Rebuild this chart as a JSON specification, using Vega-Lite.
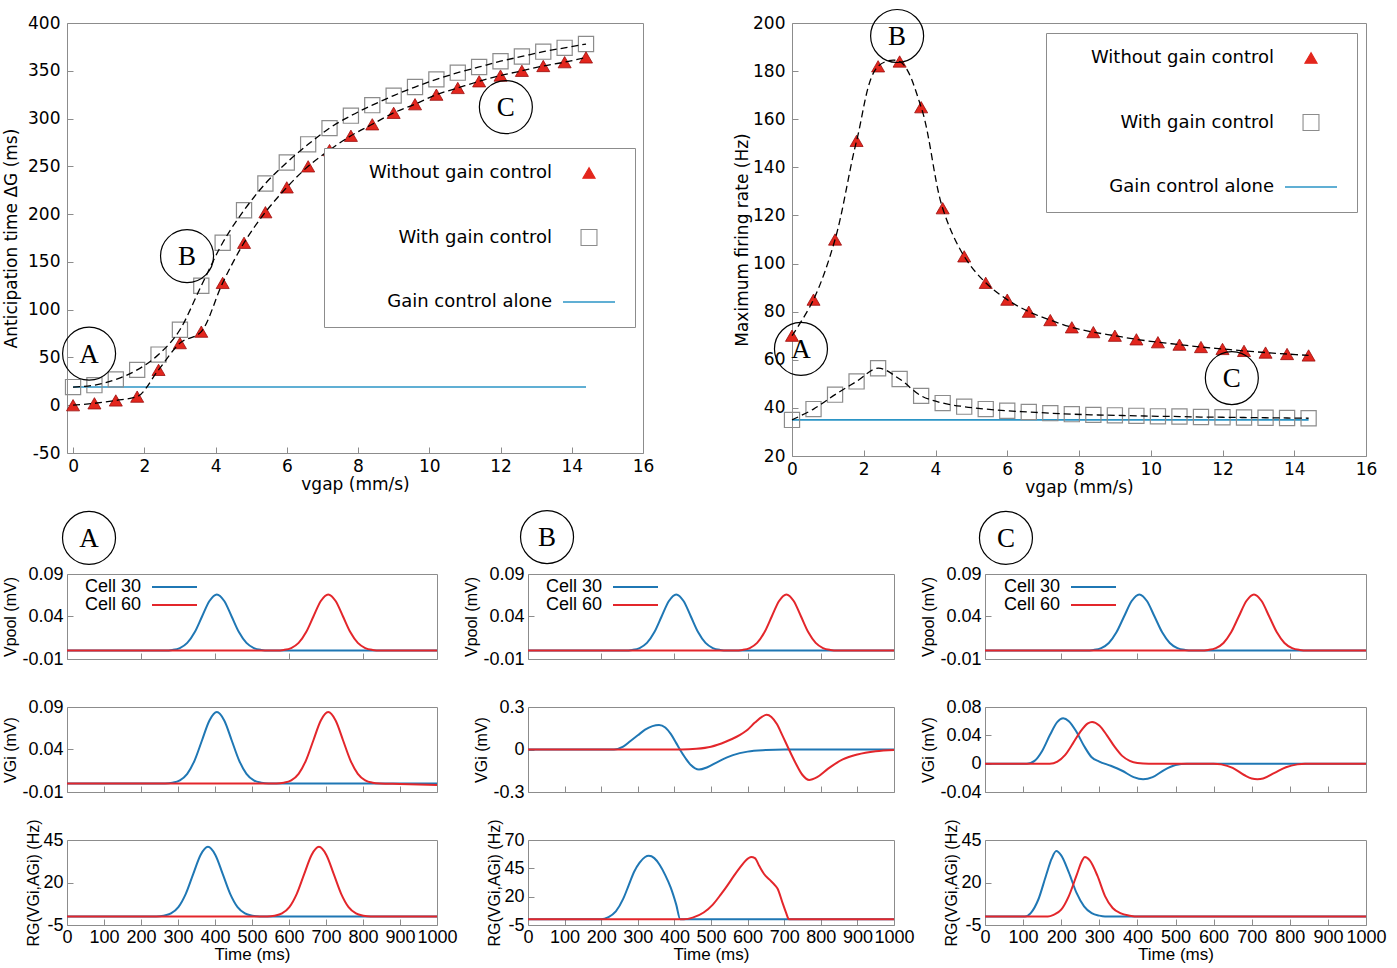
{
"$schema": "https://vega.github.io/schema/vega-lite/v6.json",
"background": "white",
"padding": {"left": 2, "top": 6, "right": 5, "bottom": 5},
"config": {
  "view": {"stroke": "#8c8c8c", "strokeWidth": 1},
  "axis": {"grid": false, "domain": false, "tickColor": "#8c8c8c", "tickSize": -6, "tickWidth": 1, "labelColor": "#000", "titleColor": "#000", "titleFontWeight": "normal", "labelFlush": false, "labelOverlap": false, "labelFont": "Liberation Sans", "labelFontSize": 18, "titleFont": "Liberation Sans", "titleFontSize": 16},
  "legend": {"labelColor": "#000"}
},
"datasets": {
  "tl": [
    {"vgap":0,"series":"Without gain control","value":0},{"vgap":0.6,"series":"Without gain control","value":2},{"vgap":1.2,"series":"Without gain control","value":5},{"vgap":1.8,"series":"Without gain control","value":9},{"vgap":2.4,"series":"Without gain control","value":37},{"vgap":3,"series":"Without gain control","value":65},{"vgap":3.6,"series":"Without gain control","value":77},{"vgap":4.2,"series":"Without gain control","value":128},{"vgap":4.8,"series":"Without gain control","value":170},{"vgap":5.4,"series":"Without gain control","value":202},{"vgap":6,"series":"Without gain control","value":228},{"vgap":6.6,"series":"Without gain control","value":250},{"vgap":7.2,"series":"Without gain control","value":267},{"vgap":7.8,"series":"Without gain control","value":282},{"vgap":8.4,"series":"Without gain control","value":294},{"vgap":9,"series":"Without gain control","value":306},{"vgap":9.6,"series":"Without gain control","value":315},{"vgap":10.2,"series":"Without gain control","value":325},{"vgap":10.8,"series":"Without gain control","value":332},{"vgap":11.4,"series":"Without gain control","value":339},{"vgap":12,"series":"Without gain control","value":345},{"vgap":12.6,"series":"Without gain control","value":350},{"vgap":13.2,"series":"Without gain control","value":355},{"vgap":13.8,"series":"Without gain control","value":359},{"vgap":14.4,"series":"Without gain control","value":364},
    {"vgap":0,"series":"With gain control","value":19},{"vgap":0.6,"series":"With gain control","value":21},{"vgap":1.2,"series":"With gain control","value":27},{"vgap":1.8,"series":"With gain control","value":37},{"vgap":2.4,"series":"With gain control","value":53},{"vgap":3,"series":"With gain control","value":79},{"vgap":3.6,"series":"With gain control","value":125},{"vgap":4.2,"series":"With gain control","value":170},{"vgap":4.8,"series":"With gain control","value":204},{"vgap":5.4,"series":"With gain control","value":232},{"vgap":6,"series":"With gain control","value":254},{"vgap":6.6,"series":"With gain control","value":273},{"vgap":7.2,"series":"With gain control","value":290},{"vgap":7.8,"series":"With gain control","value":303},{"vgap":8.4,"series":"With gain control","value":314},{"vgap":9,"series":"With gain control","value":324},{"vgap":9.6,"series":"With gain control","value":333},{"vgap":10.2,"series":"With gain control","value":341},{"vgap":10.8,"series":"With gain control","value":348},{"vgap":11.4,"series":"With gain control","value":354},{"vgap":12,"series":"With gain control","value":360},{"vgap":12.6,"series":"With gain control","value":365},{"vgap":13.2,"series":"With gain control","value":370},{"vgap":13.8,"series":"With gain control","value":374},{"vgap":14.4,"series":"With gain control","value":378},
    {"vgap":0,"series":"Gain control alone","value":19},{"vgap":14.4,"series":"Gain control alone","value":19}
  ],
  "tr": [
    {"vgap":0,"series":"Without gain control","value":70},{"vgap":0.6,"series":"Without gain control","value":85},{"vgap":1.2,"series":"Without gain control","value":110},{"vgap":1.8,"series":"Without gain control","value":151},{"vgap":2.4,"series":"Without gain control","value":182},{"vgap":3,"series":"Without gain control","value":184},{"vgap":3.6,"series":"Without gain control","value":165},{"vgap":4.2,"series":"Without gain control","value":123},{"vgap":4.8,"series":"Without gain control","value":103},{"vgap":5.4,"series":"Without gain control","value":92},{"vgap":6,"series":"Without gain control","value":85},{"vgap":6.6,"series":"Without gain control","value":80},{"vgap":7.2,"series":"Without gain control","value":76.5},{"vgap":7.8,"series":"Without gain control","value":73.5},{"vgap":8.4,"series":"Without gain control","value":71.5},{"vgap":9,"series":"Without gain control","value":70},{"vgap":9.6,"series":"Without gain control","value":68.5},{"vgap":10.2,"series":"Without gain control","value":67.3},{"vgap":10.8,"series":"Without gain control","value":66.3},{"vgap":11.4,"series":"Without gain control","value":65.3},{"vgap":12,"series":"Without gain control","value":64.5},{"vgap":12.6,"series":"Without gain control","value":63.7},{"vgap":13.2,"series":"Without gain control","value":63},{"vgap":13.8,"series":"Without gain control","value":62.4},{"vgap":14.4,"series":"Without gain control","value":61.8},
    {"vgap":0,"series":"With gain control","value":35},{"vgap":0.6,"series":"With gain control","value":39.5},{"vgap":1.2,"series":"With gain control","value":45.5},{"vgap":1.8,"series":"With gain control","value":51},{"vgap":2.4,"series":"With gain control","value":56.5},{"vgap":3,"series":"With gain control","value":52},{"vgap":3.6,"series":"With gain control","value":45},{"vgap":4.2,"series":"With gain control","value":42},{"vgap":4.8,"series":"With gain control","value":40.5},{"vgap":5.4,"series":"With gain control","value":39.5},{"vgap":6,"series":"With gain control","value":38.8},{"vgap":6.6,"series":"With gain control","value":38.3},{"vgap":7.2,"series":"With gain control","value":37.8},{"vgap":7.8,"series":"With gain control","value":37.4},{"vgap":8.4,"series":"With gain control","value":37.1},{"vgap":9,"series":"With gain control","value":36.9},{"vgap":9.6,"series":"With gain control","value":36.7},{"vgap":10.2,"series":"With gain control","value":36.5},{"vgap":10.8,"series":"With gain control","value":36.4},{"vgap":11.4,"series":"With gain control","value":36.2},{"vgap":12,"series":"With gain control","value":36.1},{"vgap":12.6,"series":"With gain control","value":36},{"vgap":13.2,"series":"With gain control","value":35.9},{"vgap":13.8,"series":"With gain control","value":35.8},{"vgap":14.4,"series":"With gain control","value":35.7},
    {"vgap":0,"series":"Gain control alone","value":35},{"vgap":14.4,"series":"Gain control alone","value":35}
  ],
  "vpool": [
    {"cell":"Cell 30","t":0,"v":0},{"cell":"Cell 30","t":265,"v":0},{"cell":"Cell 30","t":285,"v":0.0007},{"cell":"Cell 30","t":305,"v":0.0029},{"cell":"Cell 30","t":325,"v":0.0089},{"cell":"Cell 30","t":345,"v":0.0214},{"cell":"Cell 30","t":365,"v":0.04},{"cell":"Cell 30","t":385,"v":0.0582},{"cell":"Cell 30","t":405,"v":0.066},{"cell":"Cell 30","t":425,"v":0.0582},{"cell":"Cell 30","t":445,"v":0.04},{"cell":"Cell 30","t":465,"v":0.0214},{"cell":"Cell 30","t":485,"v":0.0089},{"cell":"Cell 30","t":505,"v":0.0029},{"cell":"Cell 30","t":525,"v":0.0007},{"cell":"Cell 30","t":545,"v":0},{"cell":"Cell 30","t":1000,"v":0},
    {"cell":"Cell 60","t":0,"v":0},{"cell":"Cell 60","t":566,"v":0},{"cell":"Cell 60","t":586,"v":0.0007},{"cell":"Cell 60","t":606,"v":0.0029},{"cell":"Cell 60","t":626,"v":0.0089},{"cell":"Cell 60","t":646,"v":0.0214},{"cell":"Cell 60","t":666,"v":0.04},{"cell":"Cell 60","t":686,"v":0.0582},{"cell":"Cell 60","t":706,"v":0.066},{"cell":"Cell 60","t":726,"v":0.0582},{"cell":"Cell 60","t":746,"v":0.04},{"cell":"Cell 60","t":766,"v":0.0214},{"cell":"Cell 60","t":786,"v":0.0089},{"cell":"Cell 60","t":806,"v":0.0029},{"cell":"Cell 60","t":826,"v":0.0007},{"cell":"Cell 60","t":846,"v":0},{"cell":"Cell 60","t":1000,"v":0}
  ],
  "avgi": [
    {"cell":"Cell 30","t":0,"v":0},{"cell":"Cell 30","t":265,"v":0},{"cell":"Cell 30","t":285,"v":0.0009},{"cell":"Cell 30","t":305,"v":0.0037},{"cell":"Cell 30","t":325,"v":0.0114},{"cell":"Cell 30","t":345,"v":0.0273},{"cell":"Cell 30","t":365,"v":0.0509},{"cell":"Cell 30","t":385,"v":0.0741},{"cell":"Cell 30","t":405,"v":0.084},{"cell":"Cell 30","t":425,"v":0.0741},{"cell":"Cell 30","t":445,"v":0.0509},{"cell":"Cell 30","t":465,"v":0.0273},{"cell":"Cell 30","t":485,"v":0.0114},{"cell":"Cell 30","t":505,"v":0.0037},{"cell":"Cell 30","t":525,"v":0.0009},{"cell":"Cell 30","t":545,"v":0},{"cell":"Cell 30","t":1000,"v":0},
    {"cell":"Cell 60","t":0,"v":0},{"cell":"Cell 60","t":566,"v":0},{"cell":"Cell 60","t":586,"v":0.0009},{"cell":"Cell 60","t":606,"v":0.0037},{"cell":"Cell 60","t":626,"v":0.0114},{"cell":"Cell 60","t":646,"v":0.0273},{"cell":"Cell 60","t":666,"v":0.0509},{"cell":"Cell 60","t":686,"v":0.0741},{"cell":"Cell 60","t":706,"v":0.084},{"cell":"Cell 60","t":726,"v":0.0741},{"cell":"Cell 60","t":746,"v":0.0509},{"cell":"Cell 60","t":766,"v":0.0273},{"cell":"Cell 60","t":786,"v":0.0114},{"cell":"Cell 60","t":806,"v":0.0037},{"cell":"Cell 60","t":826,"v":0.0009},{"cell":"Cell 60","t":846,"v":0},{"cell":"Cell 60","t":900,"v":-0.0005},{"cell":"Cell 60","t":1000,"v":-0.0017}
  ],
  "arg": [
    {"cell":"Cell 30","t":0,"v":0},{"cell":"Cell 30","t":241,"v":0},{"cell":"Cell 30","t":261,"v":0.46},{"cell":"Cell 30","t":281,"v":1.8},{"cell":"Cell 30","t":301,"v":5.5},{"cell":"Cell 30","t":321,"v":13.3},{"cell":"Cell 30","t":341,"v":24.9},{"cell":"Cell 30","t":361,"v":36.2},{"cell":"Cell 30","t":381,"v":41},{"cell":"Cell 30","t":401,"v":36.2},{"cell":"Cell 30","t":421,"v":24.9},{"cell":"Cell 30","t":441,"v":13.3},{"cell":"Cell 30","t":461,"v":5.5},{"cell":"Cell 30","t":481,"v":1.8},{"cell":"Cell 30","t":501,"v":0.46},{"cell":"Cell 30","t":521,"v":0},{"cell":"Cell 30","t":1000,"v":0},
    {"cell":"Cell 60","t":0,"v":0},{"cell":"Cell 60","t":541,"v":0},{"cell":"Cell 60","t":561,"v":0.46},{"cell":"Cell 60","t":581,"v":1.8},{"cell":"Cell 60","t":601,"v":5.5},{"cell":"Cell 60","t":621,"v":13.3},{"cell":"Cell 60","t":641,"v":24.9},{"cell":"Cell 60","t":661,"v":36.2},{"cell":"Cell 60","t":681,"v":41},{"cell":"Cell 60","t":701,"v":36.2},{"cell":"Cell 60","t":721,"v":24.9},{"cell":"Cell 60","t":741,"v":13.3},{"cell":"Cell 60","t":761,"v":5.5},{"cell":"Cell 60","t":781,"v":1.8},{"cell":"Cell 60","t":801,"v":0.46},{"cell":"Cell 60","t":821,"v":0},{"cell":"Cell 60","t":1000,"v":0}
  ],
  "bvgi": [
    {"cell":"Cell 30","t":0,"v":0},{"cell":"Cell 30","t":235,"v":0},{"cell":"Cell 30","t":260,"v":0.02},{"cell":"Cell 30","t":280,"v":0.06},{"cell":"Cell 30","t":300,"v":0.1},{"cell":"Cell 30","t":320,"v":0.14},{"cell":"Cell 30","t":340,"v":0.165},{"cell":"Cell 30","t":358,"v":0.173},{"cell":"Cell 30","t":375,"v":0.155},{"cell":"Cell 30","t":390,"v":0.11},{"cell":"Cell 30","t":405,"v":0.045},{"cell":"Cell 30","t":415,"v":0},{"cell":"Cell 30","t":430,"v":-0.06},{"cell":"Cell 30","t":445,"v":-0.11},{"cell":"Cell 30","t":467,"v":-0.142},{"cell":"Cell 30","t":490,"v":-0.125},{"cell":"Cell 30","t":520,"v":-0.085},{"cell":"Cell 30","t":560,"v":-0.04},{"cell":"Cell 30","t":600,"v":-0.015},{"cell":"Cell 30","t":650,"v":-0.004},{"cell":"Cell 30","t":700,"v":0},{"cell":"Cell 30","t":1000,"v":0},
    {"cell":"Cell 60","t":0,"v":0},{"cell":"Cell 60","t":420,"v":0},{"cell":"Cell 60","t":460,"v":0.005},{"cell":"Cell 60","t":500,"v":0.02},{"cell":"Cell 60","t":540,"v":0.055},{"cell":"Cell 60","t":570,"v":0.09},{"cell":"Cell 60","t":600,"v":0.14},{"cell":"Cell 60","t":620,"v":0.19},{"cell":"Cell 60","t":640,"v":0.232},{"cell":"Cell 60","t":652,"v":0.245},{"cell":"Cell 60","t":665,"v":0.23},{"cell":"Cell 60","t":680,"v":0.18},{"cell":"Cell 60","t":695,"v":0.1},{"cell":"Cell 60","t":713,"v":0},{"cell":"Cell 60","t":730,"v":-0.09},{"cell":"Cell 60","t":750,"v":-0.18},{"cell":"Cell 60","t":768,"v":-0.215},{"cell":"Cell 60","t":790,"v":-0.195},{"cell":"Cell 60","t":820,"v":-0.135},{"cell":"Cell 60","t":860,"v":-0.07},{"cell":"Cell 60","t":900,"v":-0.035},{"cell":"Cell 60","t":950,"v":-0.012},{"cell":"Cell 60","t":1000,"v":-0.003}
  ],
  "brg": [
    {"cell":"Cell 30","t":0,"v":0},{"cell":"Cell 30","t":200,"v":0},{"cell":"Cell 30","t":220,"v":2},{"cell":"Cell 30","t":240,"v":7},{"cell":"Cell 30","t":260,"v":18},{"cell":"Cell 30","t":275,"v":30},{"cell":"Cell 30","t":290,"v":42},{"cell":"Cell 30","t":305,"v":50},{"cell":"Cell 30","t":320,"v":55},{"cell":"Cell 30","t":330,"v":56},{"cell":"Cell 30","t":345,"v":54},{"cell":"Cell 30","t":360,"v":48},{"cell":"Cell 30","t":375,"v":39},{"cell":"Cell 30","t":390,"v":28},{"cell":"Cell 30","t":405,"v":13},{"cell":"Cell 30","t":416,"v":0},{"cell":"Cell 30","t":1000,"v":0},
    {"cell":"Cell 60","t":0,"v":0},{"cell":"Cell 60","t":426,"v":0},{"cell":"Cell 60","t":450,"v":1.5},{"cell":"Cell 60","t":480,"v":6},{"cell":"Cell 60","t":505,"v":13},{"cell":"Cell 60","t":527,"v":22},{"cell":"Cell 60","t":545,"v":30},{"cell":"Cell 60","t":563,"v":38.5},{"cell":"Cell 60","t":580,"v":46},{"cell":"Cell 60","t":595,"v":52},{"cell":"Cell 60","t":610,"v":55},{"cell":"Cell 60","t":620,"v":54},{"cell":"Cell 60","t":632,"v":47},{"cell":"Cell 60","t":645,"v":40},{"cell":"Cell 60","t":660,"v":35},{"cell":"Cell 60","t":675,"v":30},{"cell":"Cell 60","t":682,"v":27},{"cell":"Cell 60","t":695,"v":15},{"cell":"Cell 60","t":705,"v":6},{"cell":"Cell 60","t":713,"v":0},{"cell":"Cell 60","t":1000,"v":0}
  ],
  "cvgi": [
    {"cell":"Cell 30","t":0,"v":0},{"cell":"Cell 30","t":110,"v":0},{"cell":"Cell 30","t":130,"v":0.004},{"cell":"Cell 30","t":150,"v":0.018},{"cell":"Cell 30","t":170,"v":0.04},{"cell":"Cell 30","t":190,"v":0.059},{"cell":"Cell 30","t":205,"v":0.064},{"cell":"Cell 30","t":220,"v":0.06},{"cell":"Cell 30","t":240,"v":0.045},{"cell":"Cell 30","t":260,"v":0.025},{"cell":"Cell 30","t":280,"v":0.009},{"cell":"Cell 30","t":300,"v":0.003},{"cell":"Cell 30","t":330,"v":-0.003},{"cell":"Cell 30","t":360,"v":-0.01},{"cell":"Cell 30","t":390,"v":-0.019},{"cell":"Cell 30","t":415,"v":-0.022},{"cell":"Cell 30","t":440,"v":-0.019},{"cell":"Cell 30","t":470,"v":-0.009},{"cell":"Cell 30","t":500,"v":-0.002},{"cell":"Cell 30","t":530,"v":0},{"cell":"Cell 30","t":1000,"v":0},
    {"cell":"Cell 60","t":0,"v":0},{"cell":"Cell 60","t":170,"v":0},{"cell":"Cell 60","t":190,"v":0.003},{"cell":"Cell 60","t":210,"v":0.012},{"cell":"Cell 60","t":230,"v":0.028},{"cell":"Cell 60","t":250,"v":0.045},{"cell":"Cell 60","t":270,"v":0.057},{"cell":"Cell 60","t":281,"v":0.059},{"cell":"Cell 60","t":300,"v":0.054},{"cell":"Cell 60","t":320,"v":0.04},{"cell":"Cell 60","t":340,"v":0.024},{"cell":"Cell 60","t":360,"v":0.011},{"cell":"Cell 60","t":380,"v":0.004},{"cell":"Cell 60","t":400,"v":0.001},{"cell":"Cell 60","t":430,"v":0},{"cell":"Cell 60","t":600,"v":0},{"cell":"Cell 60","t":620,"v":-0.001},{"cell":"Cell 60","t":650,"v":-0.006},{"cell":"Cell 60","t":680,"v":-0.016},{"cell":"Cell 60","t":700,"v":-0.021},{"cell":"Cell 60","t":715,"v":-0.022},{"cell":"Cell 60","t":730,"v":-0.021},{"cell":"Cell 60","t":760,"v":-0.013},{"cell":"Cell 60","t":790,"v":-0.005},{"cell":"Cell 60","t":820,"v":-0.001},{"cell":"Cell 60","t":840,"v":0},{"cell":"Cell 60","t":1000,"v":0}
  ],
  "crg": [
    {"cell":"Cell 30","t":0,"v":0},{"cell":"Cell 30","t":105,"v":0},{"cell":"Cell 30","t":120,"v":2},{"cell":"Cell 30","t":140,"v":10},{"cell":"Cell 30","t":160,"v":24},{"cell":"Cell 30","t":175,"v":34},{"cell":"Cell 30","t":187,"v":38.5},{"cell":"Cell 30","t":200,"v":36},{"cell":"Cell 30","t":220,"v":26},{"cell":"Cell 30","t":240,"v":14},{"cell":"Cell 30","t":260,"v":6},{"cell":"Cell 30","t":280,"v":2},{"cell":"Cell 30","t":300,"v":0.5},{"cell":"Cell 30","t":315,"v":0},{"cell":"Cell 30","t":1000,"v":0},
    {"cell":"Cell 60","t":0,"v":0},{"cell":"Cell 60","t":165,"v":0},{"cell":"Cell 60","t":180,"v":1},{"cell":"Cell 60","t":200,"v":4},{"cell":"Cell 60","t":220,"v":12},{"cell":"Cell 60","t":240,"v":24},{"cell":"Cell 60","t":255,"v":33},{"cell":"Cell 60","t":262,"v":35},{"cell":"Cell 60","t":275,"v":33},{"cell":"Cell 60","t":295,"v":24},{"cell":"Cell 60","t":315,"v":12},{"cell":"Cell 60","t":335,"v":5},{"cell":"Cell 60","t":355,"v":2},{"cell":"Cell 60","t":380,"v":0.5},{"cell":"Cell 60","t":405,"v":0},{"cell":"Cell 60","t":1000,"v":0}
  ]
},
"columns": 1,
"align": "none",
"spacing": 11,
"resolve": {"scale": {"color": "independent"}, "legend": {"color": "independent"}},
"concat": [
  {"spacing": 149, "bounds": "flush",
   "resolve": {"scale": {"color": "independent"}, "legend": {"color": "independent"}},
   "hconcat": [
    {"width": 576, "height": 430, "data": {"name": "tl"},
     "layer": [
      {"transform": [{"filter": "datum.series === 'Gain control alone'"}],
       "mark": {"type": "line", "strokeWidth": 1.6},
       "encoding": {
         "x": {"field": "vgap", "type": "quantitative", "scale": {"domain": [-0.17, 16], "nice": false, "zero": false},
               "axis": {"values": [0,2,4,6,8,10,12,14,16], "title": "vgap (mm/s)", "labelFont": "DejaVu Sans", "labelFontSize": 17, "titleFont": "DejaVu Sans", "titleFontSize": 17, "labelPadding": 11, "titlePadding": 2}},
         "y": {"field": "value", "type": "quantitative", "scale": {"domain": [-50, 400], "nice": false, "zero": false},
               "axis": {"values": [-50,0,50,100,150,200,250,300,350,400], "title": "Anticipation time ΔG (ms)", "labelExpr": "replace(datum.label, '−', '-')", "labelFont": "DejaVu Sans", "labelFontSize": 17, "titleFont": "DejaVu Sans", "titleFontSize": 17, "labelPadding": 13, "titlePadding": 7}},
         "color": {"field": "series", "type": "nominal",
                   "scale": {"domain": ["Without gain control", "With gain control", "Gain control alone"], "range": ["#e3261d", "#8c8c8c", "#2b95c6"]},
                   "legend": {"title": " ", "titleOrient": "left", "titleFontSize": 18, "titlePadding": 28, "orient": "none", "legendX": 257, "legendY": 125, "direction": "vertical", "padding": 16, "strokeColor": "#8c8c8c", "fillColor": "white", "labelAlign": "right", "labelOffset": -46, "symbolOffset": 212, "symbolSize": 150, "rowPadding": 44.5, "labelFont": "DejaVu Sans", "labelFontSize": 18, "labelLimit": 400, "labelColor": "#000",
                     "encode": {"symbols": {"update": {
                       "shape": {"signal": "datum.value === 'Without gain control' ? 'triangle-up' : datum.value === 'With gain control' ? 'M-1.3,-1.3H1.3V1.3H-1.3Z' : 'M-4.25,0H4.25'"},
                       "fill": {"signal": "datum.value === 'Without gain control' ? '#e3261d' : 'transparent'"},
                       "fillOpacity": {"signal": "datum.value === 'Without gain control' ? 1 : 0"},
                       "stroke": {"signal": "datum.value === 'Without gain control' ? '#9a0f0f' : datum.value === 'With gain control' ? '#8c8c8c' : '#2b95c6'"},
                       "strokeWidth": {"signal": "datum.value === 'Gain control alone' ? 1.6 : 1.1"},
                       "opacity": {"value": 1}}}}}}
       }},
      {"transform": [{"filter": "datum.series === 'With gain control'"}],
       "mark": {"type": "point", "shape": "square", "size": 230, "filled": false, "strokeWidth": 1.2, "opacity": 1},
       "encoding": {"x": {"field": "vgap", "type": "quantitative"}, "y": {"field": "value", "type": "quantitative"}, "color": {"field": "series", "type": "nominal"}}},
      {"transform": [{"filter": "datum.series === 'Without gain control'"}],
       "mark": {"type": "point", "shape": "triangle-up", "size": 170, "filled": true, "opacity": 1, "stroke": "#9a0f0f", "strokeWidth": 0.8},
       "encoding": {"x": {"field": "vgap", "type": "quantitative"}, "y": {"field": "value", "type": "quantitative"}, "color": {"field": "series", "type": "nominal"}}},
      {"transform": [{"filter": "datum.series !== 'Gain control alone'"}],
       "mark": {"type": "line", "interpolate": "monotone", "color": "#000", "strokeDash": [7, 4], "strokeWidth": 1.3},
       "encoding": {"x": {"field": "vgap", "type": "quantitative"}, "y": {"field": "value", "type": "quantitative"}, "detail": {"field": "series"}}},
      {"data": {"values": [{"vgap": 0.45, "value": 54, "label": "A"}, {"vgap": 3.2, "value": 156, "label": "B"}, {"vgap": 12.15, "value": 312, "label": "C"}]},
       "mark": {"type": "point", "shape": "circle", "size": 2809, "filled": false, "stroke": "#000", "strokeWidth": 1.2, "opacity": 1},
       "encoding": {"x": {"field": "vgap", "type": "quantitative"}, "y": {"field": "value", "type": "quantitative"}}},
      {"data": {"values": [{"vgap": 0.45, "value": 54, "label": "A"}, {"vgap": 3.2, "value": 156, "label": "B"}, {"vgap": 12.15, "value": 312, "label": "C"}]},
       "mark": {"type": "text", "font": "Liberation Serif", "fontSize": 27, "color": "#000", "baseline": "middle", "dy": 1},
       "encoding": {"x": {"field": "vgap", "type": "quantitative"}, "y": {"field": "value", "type": "quantitative"}, "text": {"field": "label"}}}
     ]},
    {"width": 574, "height": 433, "data": {"name": "tr"},
     "layer": [
      {"transform": [{"filter": "datum.series === 'Gain control alone'"}],
       "mark": {"type": "line", "strokeWidth": 1.6},
       "encoding": {
         "x": {"field": "vgap", "type": "quantitative", "scale": {"domain": [0, 16], "nice": false, "zero": false},
               "axis": {"values": [0,2,4,6,8,10,12,14,16], "title": "vgap (mm/s)", "labelFont": "DejaVu Sans", "labelFontSize": 17, "titleFont": "DejaVu Sans", "titleFontSize": 17, "labelPadding": 11, "titlePadding": 2}},
         "y": {"field": "value", "type": "quantitative", "scale": {"domain": [20, 200], "nice": false, "zero": false},
               "axis": {"values": [20,40,60,80,100,120,140,160,180,200], "title": "Maximum firing rate (Hz)", "labelFont": "DejaVu Sans", "labelFontSize": 17, "titleFont": "DejaVu Sans", "titleFontSize": 17, "labelPadding": 13, "titlePadding": 1}},
         "color": {"field": "series", "type": "nominal",
                   "scale": {"domain": ["Without gain control", "With gain control", "Gain control alone"], "range": ["#e3261d", "#8c8c8c", "#2b95c6"]},
                   "legend": {"title": " ", "titleOrient": "left", "titleFontSize": 18, "titlePadding": 28, "orient": "none", "legendX": 254, "legendY": 10, "direction": "vertical", "padding": 16, "strokeColor": "#8c8c8c", "fillColor": "white", "labelAlign": "right", "labelOffset": -46, "symbolOffset": 212, "symbolSize": 150, "rowPadding": 44.5, "labelFont": "DejaVu Sans", "labelFontSize": 18, "labelLimit": 400, "labelColor": "#000",
                     "encode": {"symbols": {"update": {
                       "shape": {"signal": "datum.value === 'Without gain control' ? 'triangle-up' : datum.value === 'With gain control' ? 'M-1.3,-1.3H1.3V1.3H-1.3Z' : 'M-4.25,0H4.25'"},
                       "fill": {"signal": "datum.value === 'Without gain control' ? '#e3261d' : 'transparent'"},
                       "fillOpacity": {"signal": "datum.value === 'Without gain control' ? 1 : 0"},
                       "stroke": {"signal": "datum.value === 'Without gain control' ? '#9a0f0f' : datum.value === 'With gain control' ? '#8c8c8c' : '#2b95c6'"},
                       "strokeWidth": {"signal": "datum.value === 'Gain control alone' ? 1.6 : 1.1"},
                       "opacity": {"value": 1}}}}}}
       }},
      {"transform": [{"filter": "datum.series === 'With gain control'"}],
       "mark": {"type": "point", "shape": "square", "size": 230, "filled": false, "strokeWidth": 1.2, "opacity": 1},
       "encoding": {"x": {"field": "vgap", "type": "quantitative"}, "y": {"field": "value", "type": "quantitative"}, "color": {"field": "series", "type": "nominal"}}},
      {"transform": [{"filter": "datum.series === 'Without gain control'"}],
       "mark": {"type": "point", "shape": "triangle-up", "size": 170, "filled": true, "opacity": 1, "stroke": "#9a0f0f", "strokeWidth": 0.8},
       "encoding": {"x": {"field": "vgap", "type": "quantitative"}, "y": {"field": "value", "type": "quantitative"}, "color": {"field": "series", "type": "nominal"}}},
      {"transform": [{"filter": "datum.series !== 'Gain control alone'"}],
       "mark": {"type": "line", "interpolate": "catmull-rom", "color": "#000", "strokeDash": [7, 4], "strokeWidth": 1.3},
       "encoding": {"x": {"field": "vgap", "type": "quantitative"}, "y": {"field": "value", "type": "quantitative"}, "detail": {"field": "series"}}},
      {"data": {"values": [{"vgap": 0.25, "value": 64.5, "label": "A"}, {"vgap": 2.93, "value": 194.6, "label": "B"}, {"vgap": 12.26, "value": 52.4, "label": "C"}]},
       "mark": {"type": "point", "shape": "circle", "size": 2809, "filled": false, "stroke": "#000", "strokeWidth": 1.2, "opacity": 1},
       "encoding": {"x": {"field": "vgap", "type": "quantitative"}, "y": {"field": "value", "type": "quantitative"}}},
      {"data": {"values": [{"vgap": 0.25, "value": 64.5, "label": "A"}, {"vgap": 2.93, "value": 194.6, "label": "B"}, {"vgap": 12.26, "value": 52.4, "label": "C"}]},
       "mark": {"type": "text", "font": "Liberation Serif", "fontSize": 27, "color": "#000", "baseline": "middle", "dy": 1},
       "encoding": {"x": {"field": "vgap", "type": "quantitative"}, "y": {"field": "value", "type": "quantitative"}, "text": {"field": "label"}}}
     ]}
   ]},
  {"spacing": 5,
   "resolve": {"scale": {"color": "independent"}, "legend": {"color": "independent"}},
   "hconcat": [
    {"spacing": 48, "bounds": "flush",
     "resolve": {"scale": {"color": "independent"}, "legend": {"color": "independent"}},
     "vconcat": [
      {"width": 370, "height": 85,
       "layer": [
        {"data": {"name": "vpool"}, "mark": {"type": "line", "interpolate": "monotone", "strokeWidth": 2},
         "encoding": {
           "x": {"field": "t", "type": "quantitative", "scale": {"domain": [0, 1000], "nice": false, "zero": false}, "axis": {"values": [0,100,200,300,400,500,600,700,800,900,1000], "labels": false, "title": null}},
           "y": {"field": "v", "type": "quantitative", "scale": {"domain": [-0.01, 0.09], "nice": false, "zero": false}, "axis": {"values": [-0.01, 0.04, 0.09], "format": ".2f", "labelExpr": "replace(datum.label, '−', '-')", "title": "Vpool (mV)", "labelPadding": 10, "titlePadding": 3}},
           "color": {"field": "cell", "type": "nominal", "scale": {"domain": ["Cell 30", "Cell 60"], "range": ["#1f77b4", "#e3262b"]},
                     "legend": {"title": null, "orient": "none", "legendX": 18, "legendY": 4, "direction": "vertical", "padding": 0, "labelAlign": "right", "labelOffset": -42.5, "symbolOffset": 80.5, "symbolSize": 100, "symbolType": "M-4.5,0H4.5", "symbolStrokeWidth": 2, "rowPadding": 0, "labelFont": "Liberation Sans", "labelFontSize": 18, "labelLimit": 300, "labelColor": "#000"}}
         }},
        {"data": {"values": [{"t": 59.5, "v": 0.1324, "label": "A"}]}, "mark": {"type": "point", "shape": "circle", "size": 2809, "filled": false, "stroke": "#000", "strokeWidth": 1.2, "opacity": 1},
         "encoding": {"x": {"field": "t", "type": "quantitative"}, "y": {"field": "v", "type": "quantitative"}}},
        {"data": {"values": [{"t": 59.5, "v": 0.1324, "label": "A"}]}, "mark": {"type": "text", "font": "Liberation Serif", "fontSize": 27, "color": "#000", "baseline": "middle", "dy": 1},
         "encoding": {"x": {"field": "t", "type": "quantitative"}, "y": {"field": "v", "type": "quantitative"}, "text": {"field": "label"}}}
       ]},
      {"width": 370, "height": 85, "data": {"name": "avgi"}, "mark": {"type": "line", "interpolate": "monotone", "strokeWidth": 2},
       "encoding": {
         "x": {"field": "t", "type": "quantitative", "scale": {"domain": [0, 1000], "nice": false, "zero": false}, "axis": {"values": [0,100,200,300,400,500,600,700,800,900,1000], "labels": false, "title": null}},
         "y": {"field": "v", "type": "quantitative", "scale": {"domain": [-0.01, 0.09], "nice": false, "zero": false}, "axis": {"values": [-0.01, 0.04, 0.09], "format": ".2f", "labelExpr": "replace(datum.label, '−', '-')", "title": "VGi (mV)", "labelPadding": 10, "titlePadding": 3}},
         "color": {"field": "cell", "type": "nominal", "scale": {"domain": ["Cell 30", "Cell 60"], "range": ["#1f77b4", "#e3262b"]}, "legend": null}
       }},
      {"width": 370, "height": 85, "data": {"name": "arg"}, "mark": {"type": "line", "interpolate": "monotone", "strokeWidth": 2},
       "encoding": {
         "x": {"field": "t", "type": "quantitative", "scale": {"domain": [0, 1000], "nice": false, "zero": false}, "axis": {"values": [0,100,200,300,400,500,600,700,800,900,1000], "format": "d", "title": "Time (ms)", "titleFontSize": 17, "labelPadding": 9, "titlePadding": 0}},
         "y": {"field": "v", "type": "quantitative", "scale": {"domain": [-5, 45], "nice": false, "zero": false}, "axis": {"values": [-5, 20, 45], "labelExpr": "replace(datum.label, '−', '-')", "title": "RG(VGi,AGi) (Hz)", "labelPadding": 10, "titlePadding": 1}},
         "color": {"field": "cell", "type": "nominal", "scale": {"domain": ["Cell 30", "Cell 60"], "range": ["#1f77b4", "#e3262b"]}, "legend": null}
       }}
     ]},
    {"spacing": 48, "bounds": "flush",
     "resolve": {"scale": {"color": "independent"}, "legend": {"color": "independent"}},
     "vconcat": [
      {"width": 366, "height": 85,
       "layer": [
        {"data": {"name": "vpool"}, "mark": {"type": "line", "interpolate": "monotone", "strokeWidth": 2},
         "encoding": {
           "x": {"field": "t", "type": "quantitative", "scale": {"domain": [0, 1000], "nice": false, "zero": false}, "axis": {"values": [0,100,200,300,400,500,600,700,800,900,1000], "labels": false, "title": null}},
           "y": {"field": "v", "type": "quantitative", "scale": {"domain": [-0.01, 0.09], "nice": false, "zero": false}, "axis": {"values": [-0.01, 0.04, 0.09], "format": ".2f", "labelExpr": "replace(datum.label, '−', '-')", "title": "Vpool (mV)", "labelPadding": 10, "titlePadding": 3}},
           "color": {"field": "cell", "type": "nominal", "scale": {"domain": ["Cell 30", "Cell 60"], "range": ["#1f77b4", "#e3262b"]},
                     "legend": {"title": null, "orient": "none", "legendX": 18, "legendY": 4, "direction": "vertical", "padding": 0, "labelAlign": "right", "labelOffset": -42.5, "symbolOffset": 80.5, "symbolSize": 100, "symbolType": "M-4.5,0H4.5", "symbolStrokeWidth": 2, "rowPadding": 0, "labelFont": "Liberation Sans", "labelFontSize": 18, "labelLimit": 300, "labelColor": "#000"}}
         }},
        {"data": {"values": [{"t": 52, "v": 0.1335, "label": "B"}]}, "mark": {"type": "point", "shape": "circle", "size": 2809, "filled": false, "stroke": "#000", "strokeWidth": 1.2, "opacity": 1},
         "encoding": {"x": {"field": "t", "type": "quantitative"}, "y": {"field": "v", "type": "quantitative"}}},
        {"data": {"values": [{"t": 52, "v": 0.1335, "label": "B"}]}, "mark": {"type": "text", "font": "Liberation Serif", "fontSize": 27, "color": "#000", "baseline": "middle", "dy": 1},
         "encoding": {"x": {"field": "t", "type": "quantitative"}, "y": {"field": "v", "type": "quantitative"}, "text": {"field": "label"}}}
       ]},
      {"width": 366, "height": 85, "data": {"name": "bvgi"}, "mark": {"type": "line", "interpolate": "monotone", "strokeWidth": 2},
       "encoding": {
         "x": {"field": "t", "type": "quantitative", "scale": {"domain": [0, 1000], "nice": false, "zero": false}, "axis": {"values": [0,100,200,300,400,500,600,700,800,900,1000], "labels": false, "title": null}},
         "y": {"field": "v", "type": "quantitative", "scale": {"domain": [-0.3, 0.3], "nice": false, "zero": false}, "axis": {"values": [-0.3, 0, 0.3], "format": ".1~f", "labelExpr": "replace(datum.label, '−', '-')", "title": "VGi (mV)", "labelPadding": 10, "titlePadding": 3}},
         "color": {"field": "cell", "type": "nominal", "scale": {"domain": ["Cell 30", "Cell 60"], "range": ["#1f77b4", "#e3262b"]}, "legend": null}
       }},
      {"width": 366, "height": 85, "data": {"name": "brg"}, "mark": {"type": "line", "interpolate": "monotone", "strokeWidth": 2},
       "encoding": {
         "x": {"field": "t", "type": "quantitative", "scale": {"domain": [0, 1000], "nice": false, "zero": false}, "axis": {"values": [0,100,200,300,400,500,600,700,800,900,1000], "format": "d", "title": "Time (ms)", "titleFontSize": 17, "labelPadding": 9, "titlePadding": 0}},
         "y": {"field": "v", "type": "quantitative", "scale": {"domain": [-5, 70], "nice": false, "zero": false}, "axis": {"values": [-5, 20, 45, 70], "labelExpr": "replace(datum.label, '−', '-')", "title": "RG(VGi,AGi) (Hz)", "labelPadding": 10, "titlePadding": 1}},
         "color": {"field": "cell", "type": "nominal", "scale": {"domain": ["Cell 30", "Cell 60"], "range": ["#1f77b4", "#e3262b"]}, "legend": null}
       }}
     ]},
    {"spacing": 48, "bounds": "flush",
     "resolve": {"scale": {"color": "independent"}, "legend": {"color": "independent"}},
     "vconcat": [
      {"width": 381, "height": 85,
       "layer": [
        {"data": {"name": "vpool"}, "mark": {"type": "line", "interpolate": "monotone", "strokeWidth": 2},
         "encoding": {
           "x": {"field": "t", "type": "quantitative", "scale": {"domain": [0, 1000], "nice": false, "zero": false}, "axis": {"values": [0,100,200,300,400,500,600,700,800,900,1000], "labels": false, "title": null}},
           "y": {"field": "v", "type": "quantitative", "scale": {"domain": [-0.01, 0.09], "nice": false, "zero": false}, "axis": {"values": [-0.01, 0.04, 0.09], "format": ".2f", "labelExpr": "replace(datum.label, '−', '-')", "title": "Vpool (mV)", "labelPadding": 10, "titlePadding": 3}},
           "color": {"field": "cell", "type": "nominal", "scale": {"domain": ["Cell 30", "Cell 60"], "range": ["#1f77b4", "#e3262b"]},
                     "legend": {"title": null, "orient": "none", "legendX": 19, "legendY": 4, "direction": "vertical", "padding": 0, "labelAlign": "right", "labelOffset": -42.5, "symbolOffset": 80.5, "symbolSize": 100, "symbolType": "M-4.5,0H4.5", "symbolStrokeWidth": 2, "rowPadding": 0, "labelFont": "Liberation Sans", "labelFontSize": 18, "labelLimit": 300, "labelColor": "#000"}}
         }},
        {"data": {"values": [{"t": 55, "v": 0.1324, "label": "C"}]}, "mark": {"type": "point", "shape": "circle", "size": 2809, "filled": false, "stroke": "#000", "strokeWidth": 1.2, "opacity": 1},
         "encoding": {"x": {"field": "t", "type": "quantitative"}, "y": {"field": "v", "type": "quantitative"}}},
        {"data": {"values": [{"t": 55, "v": 0.1324, "label": "C"}]}, "mark": {"type": "text", "font": "Liberation Serif", "fontSize": 27, "color": "#000", "baseline": "middle", "dy": 1},
         "encoding": {"x": {"field": "t", "type": "quantitative"}, "y": {"field": "v", "type": "quantitative"}, "text": {"field": "label"}}}
       ]},
      {"width": 381, "height": 85, "data": {"name": "cvgi"}, "mark": {"type": "line", "interpolate": "monotone", "strokeWidth": 2},
       "encoding": {
         "x": {"field": "t", "type": "quantitative", "scale": {"domain": [0, 1000], "nice": false, "zero": false}, "axis": {"values": [0,100,200,300,400,500,600,700,800,900,1000], "labels": false, "title": null}},
         "y": {"field": "v", "type": "quantitative", "scale": {"domain": [-0.04, 0.08], "nice": false, "zero": false}, "axis": {"values": [-0.04, 0, 0.04, 0.08], "format": ".2~f", "labelExpr": "replace(datum.label, '−', '-')", "title": "VGi (mV)", "labelPadding": 10, "titlePadding": 3}},
         "color": {"field": "cell", "type": "nominal", "scale": {"domain": ["Cell 30", "Cell 60"], "range": ["#1f77b4", "#e3262b"]}, "legend": null}
       }},
      {"width": 381, "height": 85, "data": {"name": "crg"}, "mark": {"type": "line", "interpolate": "monotone", "strokeWidth": 2},
       "encoding": {
         "x": {"field": "t", "type": "quantitative", "scale": {"domain": [0, 1000], "nice": false, "zero": false}, "axis": {"values": [0,100,200,300,400,500,600,700,800,900,1000], "format": "d", "title": "Time (ms)", "titleFontSize": 17, "labelPadding": 9, "titlePadding": 0}},
         "y": {"field": "v", "type": "quantitative", "scale": {"domain": [-5, 45], "nice": false, "zero": false}, "axis": {"values": [-5, 20, 45], "labelExpr": "replace(datum.label, '−', '-')", "title": "RG(VGi,AGi) (Hz)", "labelPadding": 10, "titlePadding": 1}},
         "color": {"field": "cell", "type": "nominal", "scale": {"domain": ["Cell 30", "Cell 60"], "range": ["#1f77b4", "#e3262b"]}, "legend": null}
       }}
     ]}
   ]}
]
}
